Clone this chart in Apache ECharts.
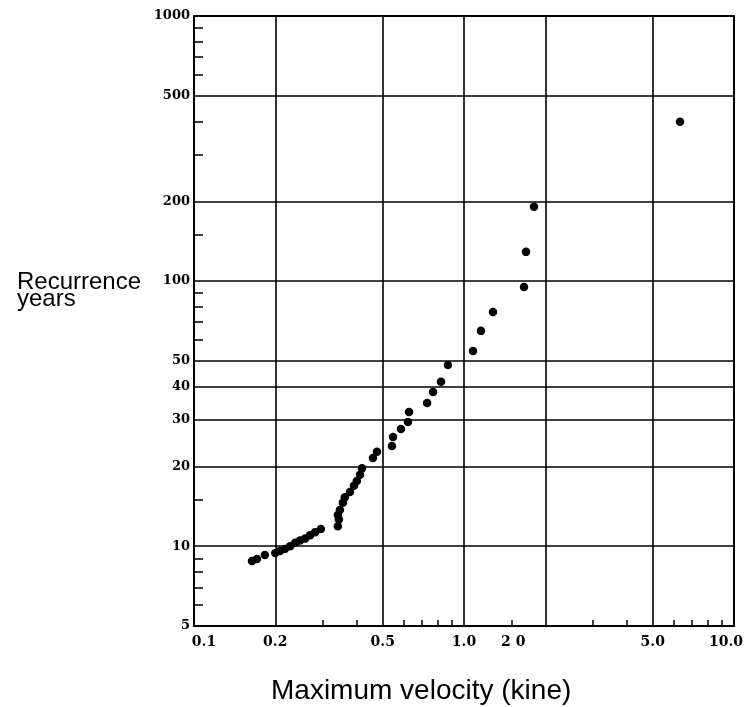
<!DOCTYPE html>
<html lang="en">

<head>
    <meta charset="utf-8">
    <title>Recurrence years vs maximum velocity</title>
    <script src="https://cdn.jsdelivr.net/npm/echarts@6.0.0/dist/echarts.min.js"></script>
    <style>* {
        margin: 0;
        padding: 0;
    }
    #chart-container {
        width: 752px;
        height: 707px;
        background: #fff;
    }</style>
</head>

<body>
    <div id="chart-container"></div>
    <script>
      // values (log-log plot)
      var velocity = [0.164, 0.171, 0.183, 0.200, 0.208, 0.217, 0.227, 0.237, 0.247, 0.258, 0.269, 0.281, 0.295,
                      0.341, 0.344, 0.341, 0.347, 0.356, 0.362, 0.378, 0.391, 0.401, 0.412, 0.419, 0.460, 0.476,
                      0.541, 0.546, 0.584, 0.620, 0.626, 0.730, 0.768, 0.822, 0.872,
                      1.08, 1.156, 1.281, 1.668, 1.697, 1.817, 6.31];
      var recurrence = [8.8, 8.95, 9.27, 9.43, 9.6, 9.76, 10.0, 10.3, 10.5, 10.7, 11.0, 11.3, 11.6,
                        11.9, 12.6, 13.1, 13.7, 14.6, 15.3, 16.0, 16.9, 17.6, 18.6, 19.7, 21.5, 22.7,
                        23.9, 25.8, 27.7, 29.4, 32.1, 34.7, 38.2, 41.7, 48.3,
                        54.5, 64.9, 76.5, 95.1, 128.9, 190.6, 399];

      var xTickValues = [0.1, 0.2, 0.5, 1, 2, 5, 10];
      var xTickLabels = ['0.1', '0.2', '0.5', '1.0', '2 0', '5.0', '10.0'];
      var xMinorTicks = [0.3, 0.4, 0.6, 0.7, 0.8, 0.9, 1.5, 3, 4, 6, 7, 8, 9];
      var xGridValues = [0.2, 0.5, 1, 2, 5];

      var yTickValues = [5, 10, 20, 30, 40, 50, 100, 200, 500, 1000];
      var yTickLabels = ['5', '10', '20', '30', '40', '50', '100', '200', '500', '1000'];
      var yMinorTicks = [6, 7, 8, 9, 15, 60, 70, 80, 90, 150, 300, 400, 600, 700, 800, 900];
      var yGridValues = [10, 20, 30, 40, 50, 100, 200, 500];

      var lg = Math.log10;
      var points = velocity.map(function (v, i) { return [lg(v), lg(recurrence[i])]; });

      function labelFor(values, labels) {
          return function (val) {
              for (var i = 0; i < values.length; i++) {
                  if (Math.abs(lg(values[i]) - val) < 1e-9) {
                      var t = labels[i];
                      if (t === '2 0') return '{shiftL|' + t + '}';
                      if (t === '0.1') return '{shiftR|' + t + '}';
                      if (t === '10.0') return '{shiftE|' + t + '}';
                      return t;
                  }
              }
              return '';
          };
      }

      var yFont = { fontFamily: 'DejaVu Serif', fontWeight: 'bold', fontSize: 13, color: '#000' };
      var xFont = { fontFamily: 'DejaVu Serif', fontWeight: 'bold', fontSize: 14, color: '#000' };

      var myChart = echarts.init(document.getElementById('chart-container'));
      myChart.setOption({
          animation: false,
          backgroundColor: '#fff',
          title: [
              {
                  text: 'Recurrence\nyears',
                  left: 12, top: 269,
                  textStyle: { fontFamily: 'Liberation Sans', fontWeight: 'normal', fontSize: 24, lineHeight: 17, color: '#000' }
              },
              {
                  text: 'Maximum velocity (kine)',
                  left: 266, top: 672,
                  textStyle: { fontFamily: 'Liberation Sans', fontWeight: 'normal', fontSize: 28, color: '#000' }
              }
          ],
          grid: { left: 194, right: 18, top: 16, bottom: 81 },
          xAxis: [
              {
                  type: 'value', position: 'bottom',
                  min: lg(0.1), max: lg(10),
                  axisLine: { show: true, lineStyle: { color: '#000', width: 2 } },
                  axisTick: { show: true, inside: true, length: 6, customValues: xMinorTicks.map(lg), lineStyle: { color: '#000', width: 1.5 } },
                  axisLabel: Object.assign({
                      margin: 9,
                      customValues: xTickValues.map(lg),
                      formatter: labelFor(xTickValues, xTickLabels),
                      rich: {
                          shiftL: Object.assign({ padding: [0, 64, 0, 0] }, xFont),
                          shiftR: Object.assign({ padding: [0, 0, 0, 20] }, xFont),
                          shiftE: Object.assign({ padding: [0, 16, 0, 0] }, xFont)
                      }
                  }, xFont),
                  splitLine: { show: false }
              },
              {
                  type: 'value', position: 'top',
                  min: lg(0.1), max: lg(10),
                  axisLine: { show: true, onZero: false, lineStyle: { color: '#000', width: 2 } },
                  axisTick: { show: false, customValues: xGridValues.map(lg) },
                  axisLabel: { show: false },
                  splitLine: { show: true, lineStyle: { color: '#000', width: 1.6 } }
              }
          ],
          yAxis: [
              {
                  type: 'value', position: 'left',
                  min: lg(5), max: lg(1000),
                  axisLine: { show: true, onZero: false, lineStyle: { color: '#000', width: 2 } },
                  axisTick: { show: true, inside: true, length: 9, customValues: yMinorTicks.map(lg), lineStyle: { color: '#000', width: 1.5 } },
                  axisLabel: Object.assign({
                      margin: 4,
                      customValues: yTickValues.map(lg),
                      formatter: labelFor(yTickValues, yTickLabels)
                  }, yFont),
                  splitLine: { show: false }
              },
              {
                  type: 'value', position: 'right',
                  min: lg(5), max: lg(1000),
                  axisLine: { show: true, onZero: false, lineStyle: { color: '#000', width: 2 } },
                  axisTick: { show: false, customValues: yGridValues.map(lg) },
                  axisLabel: { show: false },
                  splitLine: { show: true, lineStyle: { color: '#000', width: 1.6 } }
              }
          ],
          series: [
              {
                  type: 'scatter',
                  xAxisIndex: 0, yAxisIndex: 0,
                  symbol: 'circle',
                  symbolSize: 8.5,
                  itemStyle: { color: '#000', opacity: 1 },
                  data: points
              }
          ]
      });
  </script>

</body>

</html>
